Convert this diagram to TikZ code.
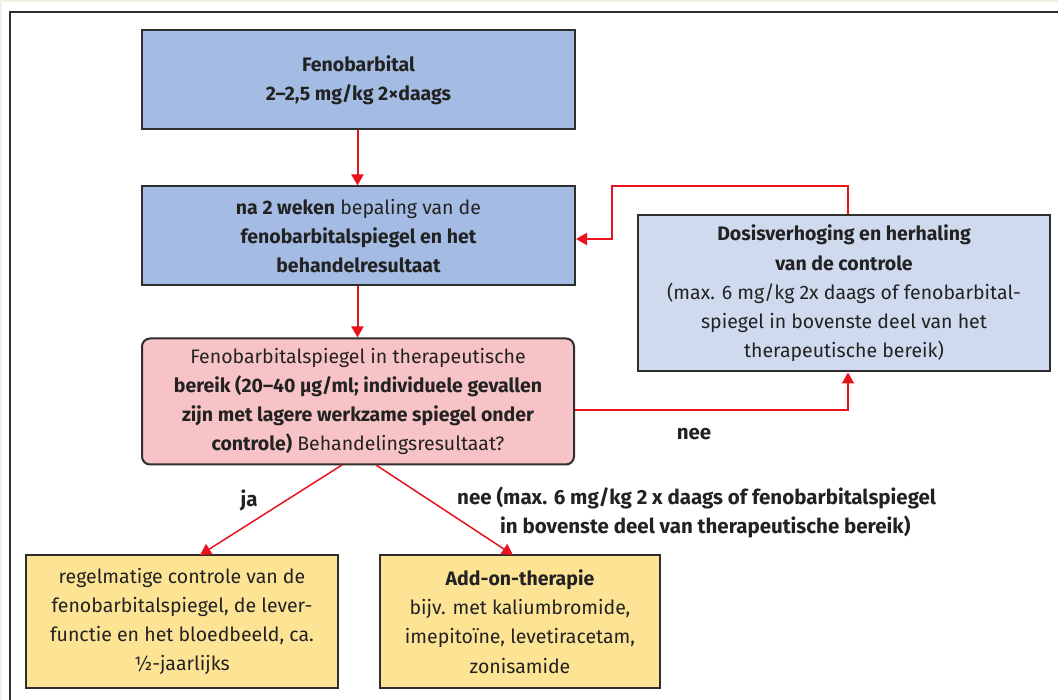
\documentclass[tikz,border=0pt]{standalone}
\usepackage{fontspec}
\setmainfont{Fira Sans}
\usetikzlibrary{arrows.meta,calc}
\definecolor{cream}{HTML}{F1F1E3}
\definecolor{bluebox}{HTML}{A4BBE3}
\definecolor{lightblue}{HTML}{CFDAEF}
\definecolor{pinkbox}{HTML}{F8C3C6}
\definecolor{yellowbox}{HTML}{FDE494}
\definecolor{arrowred}{HTML}{E8131C}
\definecolor{framegray}{HTML}{2E2E2E}
\definecolor{textgray}{HTML}{222222}
\tikzset{
  box/.style={draw=framegray, line width=2pt, inner sep=0pt, align=center,
    text=textgray, font=\fontsize{19.5}{29.3}\selectfont},
  conn/.style={draw=arrowred, line width=2pt, -{Triangle[length=11pt,width=12pt]}},
  diag/.style={draw=arrowred, line width=1.5pt, -{Triangle[length=11pt,width=12pt]}},
  lbl/.style={text=textgray, font=\fontsize{20.5}{29.3}\selectfont\bfseries, align=center, inner sep=0pt}
}
\begin{document}
\begin{tikzpicture}[x=1pt,y=-1pt]
\useasboundingbox (0,0) rectangle (1058,700);
\fill[cream] (0,0) rectangle (1058,700);
\fill[white] (2,2) rectangle (1058,700);
\draw[framegray, line width=2.2pt] (10,712) -- (10,12) -- (1070,12);

\node[box, fill=bluebox, minimum width=433pt, minimum height=99pt] (b1) at (358.5,80)
  {\bfseries Fenobarbital\\\bfseries 2–2,5 mg/kg 2×daags};
\node[box, fill=bluebox, minimum width=433pt, minimum height=99pt] (b2) at (358.5,236)
  {\textbf{na 2 weken} bepaling van de\\\bfseries fenobarbitalspiegel en het\\\bfseries behandelresultaat};
\node[box, fill=pinkbox, rounded corners=8pt, minimum width=432pt, minimum height=126pt] (b3) at (358,401.5)
  {Fenobarbitalspiegel in therapeutische\\\bfseries bereik (20–40 µg/ml; individuele gevallen\\\bfseries zijn met lagere werkzame spiegel onder\\\textbf{controle)} Behandelingsresultaat?};
\node[box, fill=lightblue, minimum width=412pt, minimum height=156pt] (b4) at (844,293.5)
  {\bfseries Dosisverhoging en herhaling\\\bfseries van de controle\\(max. 6 mg/kg 2x daags of fenobarbital-\\spiegel in bovenste deel van het\\therapeutische bereik)};
\node[box, fill=yellowbox, minimum width=312pt, minimum height=133pt] (b5) at (182,621.5)
  {regelmatige controle van de\\fenobarbitalspiegel, de lever-\\functie en het bloedbeeld, ca.\\½-jaarlijks};
\node[box, fill=yellowbox, minimum width=280pt, minimum height=133pt] (b6) at (520,621.5)
  {\bfseries Add-on-therapie\\bijv. met kaliumbromide,\\imepitoïne, levetiracetam,\\zonisamide};

\coordinate (c1) at ($(b3.east)+(0,9)$);
\coordinate (c2) at (848,186);
\coordinate (c3) at (612,186);
\coordinate (c4) at ($(b2.east)+(0,3)$);
\coordinate (s1) at (342,465);
\coordinate (s2) at (376,465);
\coordinate (t1) at (200,555);
\coordinate (t2) at (513,555);

\draw[conn] (b1.south -| 357.5,0) -- (b2.north -| 357.5,0);
\draw[conn] (b2.south -| 357.5,0) -- (b3.north -| 357.5,0);
\draw[conn] (c1) -| (b4.south -| c2);
\draw[conn] (b4.north -| c2) -- (c2) -- (c3) |- (c4);
\draw[diag] (s1) -- (t1);
\draw[diag] (s2) -- (t2);

\node[lbl] (ja) at (249,500) {ja};
\node[lbl] (nee1) at (694,434) {nee};
\node[lbl, anchor=west] (nee2a) at (457,498) {nee (max. 6 mg/kg 2 x daags of fenobarbitalspiegel};
\node[lbl, anchor=west] (nee2b) at (500,527) {in bovenste deel van therapeutische bereik)};
\end{tikzpicture}
\end{document}
